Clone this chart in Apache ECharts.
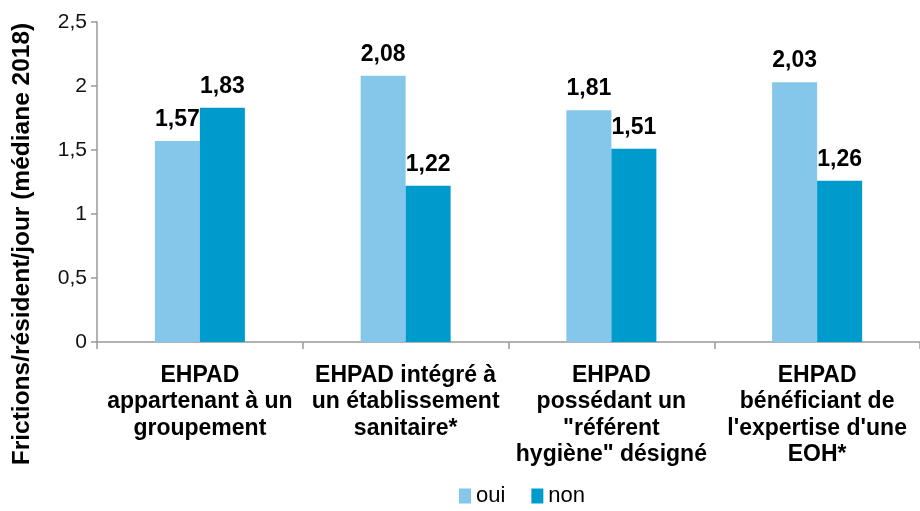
<!DOCTYPE html>
<html><head><meta charset="utf-8">
<script src="https://cdn.jsdelivr.net/npm/echarts@6/dist/echarts.min.js"></script>
<style>html,body{margin:0;padding:0;background:#fff}#c{width:920px;height:511px}</style>
</head><body><div id="c"></div>
<script>
const categories = [
  "EHPAD\nappartenant à un\ngroupement",
  "EHPAD intégré à\nun établissement\nsanitaire*",
  "EHPAD\npossédant un\n\"référent\nhygiène\" désigné",
  "EHPAD\nbénéficiant de\nl'expertise d'une\nEOH*"
];
const oui = [1.57, 2.08, 1.81, 2.03];
const non = [1.83, 1.22, 1.51, 1.26];
const yTicks = [0, 0.5, 1, 1.5, 2, 2.5];
const seriesNames = ["oui", "non"];
const yTitle = "Frictions/résident/jour (médiane 2018)";

const FONT = "Liberation Sans, Arial, sans-serif";
const fmt = v => String(v).replace('.', ',');
const chart = echarts.init(document.getElementById('c'), null, {renderer: 'canvas'});
const lbl = {show: true, position: 'top', distance: 10, fontFamily: FONT, fontSize: 23, fontWeight: 'bold', color: '#000', formatter: p => fmt(p.value.toFixed(2))};
chart.setOption({
  animation: false,
  grid: {left: 97, right: -5, top: 22, bottom: 169, containLabel: false},
  legend: {
    data: seriesNames, top: 485, left: 459, itemWidth: 12, itemHeight: 15, itemGap: 26,
    icon: 'rect', padding: [0, 0, 0, 0],
    textStyle: {fontFamily: FONT, fontSize: 22, color: '#000', padding: [0,0,0,0]}
  },
  xAxis: {
    type: 'category', data: categories,
    axisLine: {lineStyle: {color: '#9a9a9a', width: 1.5}},
    axisTick: {show: true, length: 7, lineStyle: {color: '#9a9a9a', width: 1.5}},
    axisLabel: {interval: 0, margin: 20, fontFamily: FONT, fontSize: 23, fontWeight: 'bold', color: '#000', lineHeight: 26.5, align: 'center'}
  },
  yAxis: {
    type: 'value', min: 0, max: 2.5, interval: 0.5,
    axisLine: {show: true, lineStyle: {color: '#9a9a9a', width: 1.5}},
    axisTick: {show: true, length: 6, lineStyle: {color: '#9a9a9a', width: 1.5}},
    splitLine: {show: false},
    axisLabel: {margin: 10, fontFamily: FONT, fontSize: 21, color: '#111', formatter: v => fmt(v)}
  },
  graphic: [{
    type: 'text', x: 22, y: 244, rotation: Math.PI / 2,
    style: {text: yTitle, font: 'bold 24.5px ' + FONT, fill: '#000', align: 'center', verticalAlign: 'middle'}
  }],
  series: [
    {name: seriesNames[0], type: 'bar', data: oui, barWidth: 45, barGap: '0%', itemStyle: {color: '#85C6EB'}, label: lbl},
    {name: seriesNames[1], type: 'bar', data: non, barWidth: 45, itemStyle: {color: '#009BCD'}, label: lbl}
  ]
});
</script></body></html>
